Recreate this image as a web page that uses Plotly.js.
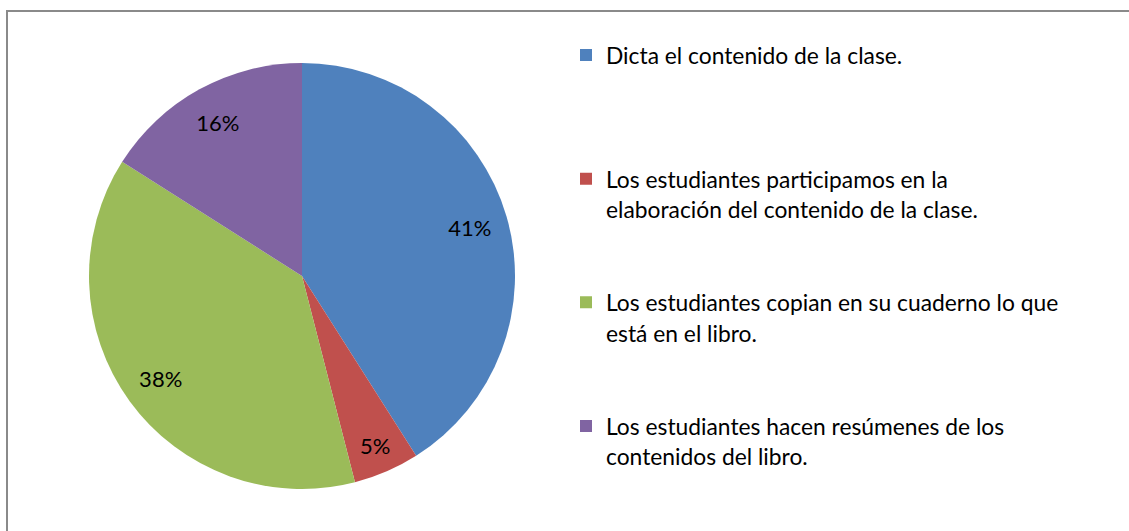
<!DOCTYPE html>
<html>
<head>
<meta charset="utf-8">
<script src="https://cdn.plot.ly/plotly-3.0.1.min.js"></script>
<style>
  html, body { margin: 0; padding: 0; background: #fff; }
  #chart { width: 1129px; height: 531px; }
</style>
</head>
<body>
<div id="chart"></div>
<script>
// Data
const categoryLines = [
  ["Dicta el contenido de la clase."],
  ["Los estudiantes participamos en la", "elaboración del contenido de la clase."],
  ["Los estudiantes copian en su cuaderno lo que", "está en el libro."],
  ["Los estudiantes hacen resúmenes de los", "contenidos del libro."]
];
const values = [41, 5, 38, 16];
const sliceColors = ["#4F81BD", "#C0504D", "#9BBB59", "#8064A2"];

const W = 1129, H = 531;
const LINES_PER_ITEM = 4;
const textSize = 22.8;

const labels = categoryLines.map((lines, i) => {
  const padded = lines.map(l => '<span style="font-size:' + textSize + 'px">' + l + '</span>');
  if (i < categoryLines.length - 1) {
    while (padded.length < LINES_PER_ITEM) padded.push(' ');
  }
  return padded.join('<br>');
});

const px = x => x / W;
const py = y => 1 - y / H;
const pieDomain = { x: [px(89), px(515)], y: [py(489), py(63)] };

// Coloured pie (legend source)
const pieTrace = {
  type: 'pie',
  labels: labels,
  values: values,
  sort: false,
  direction: 'clockwise',
  rotation: 0,
  marker: { colors: sliceColors, line: { width: 0 } },
  textinfo: 'none',
  hoverinfo: 'label+percent',
  domain: pieDomain
};

// Transparent ring on top that only carries the percent labels,
// so they sit in the outer part of each slice like the reference.
const labelTrace = {
  type: 'pie',
  labels: labels,
  values: values,
  sort: false,
  direction: 'clockwise',
  rotation: 0,
  hole: 0.64,
  showlegend: false,
  marker: { colors: sliceColors.map(() => 'rgba(0,0,0,0)'), line: { width: 0 } },
  textinfo: 'percent',
  texttemplate: '%{percent:.0%}',
  textposition: 'inside',
  insidetextorientation: 'horizontal',
  textfont: { family: 'Lato, sans-serif', size: 22, color: '#000000' },
  hoverinfo: 'skip',
  domain: pieDomain
};

const layout = {
  width: W,
  height: H,
  margin: { l: 0, r: 0, t: 0, b: 0, pad: 0 },
  paper_bgcolor: '#ffffff',
  showlegend: true,
  font: { family: 'Lato, sans-serif', color: '#000000' },
  uniformtext: { mode: false },
  legend: {
    x: px(566),
    xanchor: 'left',
    y: py(33.5),
    yanchor: 'top',
    valign: 'top',
    font: { family: 'Lato, sans-serif', size: 23.2, color: '#000000' },
    bgcolor: 'rgba(0,0,0,0)',
    borderwidth: 0
  },
  shapes: [
    {
      type: 'line', xref: 'paper', yref: 'paper',
      x0: px(7), x1: px(1129), y0: py(11), y1: py(11),
      line: { color: '#8a8a8a', width: 2 }
    },
    {
      type: 'line', xref: 'paper', yref: 'paper',
      x0: px(7), x1: px(7), y0: py(10), y1: py(531),
      line: { color: '#8a8a8a', width: 2 }
    }
  ]
};

Plotly.newPlot('chart', [pieTrace, labelTrace], layout, { displayModeBar: false, staticPlot: true });
</script>
</body>
</html>
